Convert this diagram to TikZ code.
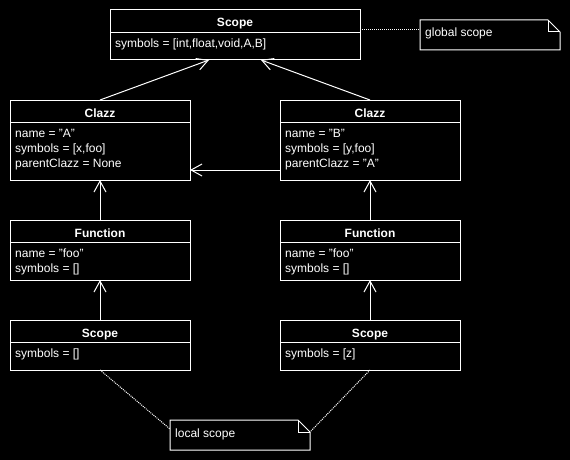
\documentclass[tikz,border=0pt]{standalone}
\usepackage{fontspec}
\setmainfont{Liberation Sans}
\usetikzlibrary{arrows.meta}
\begin{document}
\begin{tikzpicture}[x=1pt,y=-1pt,
  box/.style={draw=white, line width=1pt, rectangle, anchor=north west,
    inner sep=0pt, outer sep=0pt, minimum width=180pt},
  ttl/.style={text=white, font=\bfseries\fontsize{12}{14}\selectfont,
    anchor=base, inner sep=0pt},
  attr/.style={text=white, font=\fontsize{12}{14}\selectfont,
    anchor=base west, inner sep=0pt},
  note/.style={rectangle, anchor=north west, minimum width=140pt,
    minimum height=30pt, inner sep=0pt, outer sep=0pt},
  outline/.style={draw=white, line width=1pt},
  inherit/.style={draw=white, line width=1pt,
    -{Straight Barb[length=11pt,width=12pt]}},
  noteline/.style={draw=white, line width=1pt, dash pattern=on 1pt off 1pt}
]
% canvas
\fill[black] (0,0) rectangle (570,460);

% ---- global scope ----
\node[box, minimum width=250pt, minimum height=50pt] (gs) at (110,10) {};
\node[ttl] (gst) at ([yshift=-17pt]gs.north) {Scope};
\draw[outline] ([yshift=-22.5pt]gs.north west) -- ([yshift=-22.5pt]gs.north east);
\node[attr] (gs1) at ([xshift=5pt,yshift=-37.5pt]gs.north west) {symbols = [int,float,void,A,B]};

% ---- class A ----
\node[box, minimum height=80pt] (ca) at (10,100) {};
\node[ttl] (cat) at ([yshift=-17pt]ca.north) {Clazz};
\draw[outline] ([yshift=-22.5pt]ca.north west) -- ([yshift=-22.5pt]ca.north east);
\node[attr] (ca1) at ([xshift=5pt,yshift=-37.5pt]ca.north west) {name = "A"};
\node[attr] (ca2) at ([xshift=5pt,yshift=-52.5pt]ca.north west) {symbols = [x,foo]};
\node[attr] (ca3) at ([xshift=5pt,yshift=-67.5pt]ca.north west) {parentClazz = None};

% ---- class B ----
\node[box, minimum height=80pt] (cb) at (280,100) {};
\node[ttl] (cbt) at ([yshift=-17pt]cb.north) {Clazz};
\draw[outline] ([yshift=-22.5pt]cb.north west) -- ([yshift=-22.5pt]cb.north east);
\node[attr] (cb1) at ([xshift=5pt,yshift=-37.5pt]cb.north west) {name = "B"};
\node[attr] (cb2) at ([xshift=5pt,yshift=-52.5pt]cb.north west) {symbols = [y,foo]};
\node[attr] (cb3) at ([xshift=5pt,yshift=-67.5pt]cb.north west) {parentClazz = "A"};

% ---- functions ----
\node[box, minimum height=60pt] (fa) at (10,220) {};
\node[ttl] (fat) at ([yshift=-17pt]fa.north) {Function};
\draw[outline] ([yshift=-22.5pt]fa.north west) -- ([yshift=-22.5pt]fa.north east);
\node[attr] (fa1) at ([xshift=5pt,yshift=-37.5pt]fa.north west) {name = "foo"};
\node[attr] (fa2) at ([xshift=5pt,yshift=-52.5pt]fa.north west) {symbols = []};

\node[box, minimum height=60pt] (fb) at (280,220) {};
\node[ttl] (fbt) at ([yshift=-17pt]fb.north) {Function};
\draw[outline] ([yshift=-22.5pt]fb.north west) -- ([yshift=-22.5pt]fb.north east);
\node[attr] (fb1) at ([xshift=5pt,yshift=-37.5pt]fb.north west) {name = "foo"};
\node[attr] (fb2) at ([xshift=5pt,yshift=-52.5pt]fb.north west) {symbols = []};

% ---- local scopes ----
\node[box, minimum height=50pt] (sa) at (10,320) {};
\node[ttl] (sat) at ([yshift=-17pt]sa.north) {Scope};
\draw[outline] ([yshift=-22.5pt]sa.north west) -- ([yshift=-22.5pt]sa.north east);
\node[attr] (sa1) at ([xshift=5pt,yshift=-37.5pt]sa.north west) {symbols = []};

\node[box, minimum height=50pt] (sb) at (280,320) {};
\node[ttl] (sbt) at ([yshift=-17pt]sb.north) {Scope};
\draw[outline] ([yshift=-22.5pt]sb.north west) -- ([yshift=-22.5pt]sb.north east);
\node[attr] (sb1) at ([xshift=5pt,yshift=-37.5pt]sb.north west) {symbols = [z]};

% ---- notes with folded corner ----
\node[note] (gn) at (420,20) {};
\draw[outline] (gn.north west) -- ([xshift=-12pt]gn.north east)
  -- ([yshift=-12pt]gn.north east) -- (gn.south east) -- (gn.south west) -- cycle;
\draw[outline] ([xshift=-12pt]gn.north east) |- ([yshift=-12pt]gn.north east);
\node[attr] (gnt) at ([xshift=5pt,yshift=-17pt]gn.north west) {global scope};

\node[note] (ln) at (170,420) {};
\draw[outline] (ln.north west) -- ([xshift=-12pt]ln.north east)
  -- ([yshift=-12pt]ln.north east) -- (ln.south east) -- (ln.south west) -- cycle;
\draw[outline] ([xshift=-12pt]ln.north east) |- ([yshift=-12pt]ln.north east);
\node[attr] (lnt) at ([xshift=5pt,yshift=-17pt]ln.north west) {local scope};

% ---- parent links ----
\draw[inherit] (ca.north) -- ([xshift=99pt]gs.south west);
\draw[inherit] (cb.north) -- ([xshift=151pt]gs.south west);
\draw[inherit] ([yshift=-70pt]cb.north west) -- ([yshift=-70pt]ca.north east);
\draw[inherit] (fa.north) -- (ca.south);
\draw[inherit] (fb.north) -- (cb.south);
\draw[inherit] (sa.north) -- (fa.south);
\draw[inherit] (sb.north) -- (fb.south);

% ---- note links ----
\draw[noteline] ([yshift=-20pt]gs.north east) -- ([yshift=-10pt]gn.north west);
\draw[noteline] (sa.south) -- ([yshift=-9pt]ln.north west);
\draw[noteline] (sb.south) -- ([yshift=-12pt]ln.north east);
\end{tikzpicture}
\end{document}
